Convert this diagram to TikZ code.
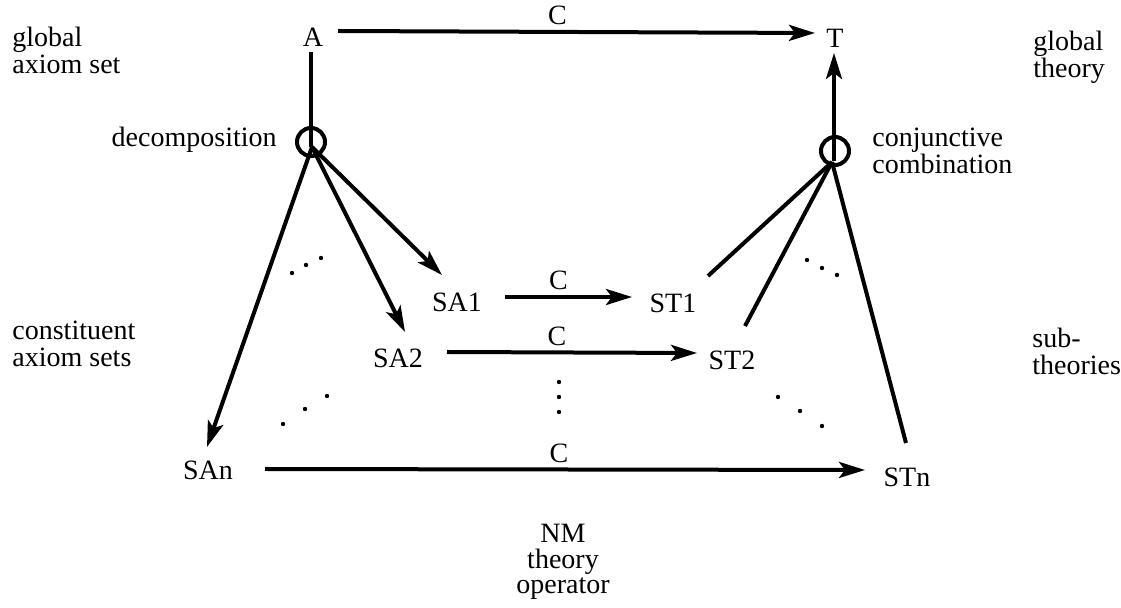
\documentclass[tikz,border=0pt]{standalone}
\usepackage{fontspec}
\setmainfont{Liberation Serif}
\usetikzlibrary{arrows.meta,calc}
\begin{document}
\begin{tikzpicture}[x=0.5pt,y=-0.5pt,
  lbl/.style={font=\fontsize{14}{13.5}\selectfont, inner sep=0pt},
  ln/.style={line width=2pt},
  arr/.style={line width=2pt,-{Stealth[length=13pt,width=8pt,inset=3pt]}},
  hub/.style={circle, draw, line width=2pt, minimum size=14pt, inner sep=0pt},
  clbl/.style={lbl, above=2.5pt}]
\useasboundingbox (0,0) rectangle (1121,608);
% main nodes
\node[lbl] (A) at (313,37) {A};
\node[lbl] (T) at (835,38) {T};
\node[hub] (dec) at (311,142) {};
\node[hub] (con) at (835,151) {};
\node[lbl] (SA1) at (457,302) {SA1};
\node[lbl] (SA2) at (398,358) {SA2};
\node[lbl] (SAn) at (208,470) {SAn};
\node[lbl] (ST1) at (673,303) {ST1};
\node[lbl] (ST2) at (732,360) {ST2};
\node[lbl] (STn) at (907,477) {STn};
% side labels (base anchor = baseline of last line)
\node[lbl, anchor=base west, align=left] (gas) at (12,74) {global\\axiom set};
\node[lbl, anchor=base east] (decl) at (277,147) {decomposition};
\node[lbl, anchor=base west, align=left] (cas) at (12,367) {constituent\\axiom sets};
\node[lbl, anchor=base west, align=left] (gt) at (1033,78) {global\\theory};
\node[lbl, anchor=base west, align=left] (cc) at (872,174) {conjunctive\\combination};
\node[lbl, anchor=base west, align=left] (subt) at (1032,375) {sub-\\theories};
\node[lbl, font=\fontsize{14}{12.75}\selectfont, anchor=base, align=center] (nm) at (563,594) {NM\\theory\\operator};
% top connector
\draw[arr] ($(A)+(25,-6)$) -- node[clbl, pos=0.46] (c0) {C} ($(T)+(-20,-5)$);
% decomposition
\draw[ln] ($(A)+(-2,15)$) -- ($(dec)+(0,5)$);
\draw[arr] ($(dec)+(1,5)$) -- ($(SA1)+(-15,-27)$);
\draw[arr] ($(dec)+(1,5)$) -- ($(SA2)+(7,-26)$);
\draw[arr] ($(dec)+(1,5)$) -- ($(SAn)+(-1,-23)$);
% C operators
\draw[arr] ($(SA1)+(48,-5)$) -- node[clbl, pos=0.42] (c1) {C} ($(ST1)+(-41,-6)$);
\draw[arr] ($(SA2)+(49,-6)$) -- node[clbl, pos=0.44] (c2) {C} ($(ST2)+(-35,-7)$);
\draw[arr] ($(SAn)+(57,-1)$) -- node[clbl, pos=0.49] (c3) {C} ($(STn)+(-42,-7)$);
% conjunctive combination
\draw[ln] ($(ST1)+(35,-27)$) -- ($(con)+(-3,11)$);
\draw[ln] ($(ST2)+(13,-34)$) -- ($(con)+(-3,11)$);
\draw[ln] ($(STn)+(-1,-34)$) -- ($(con)+(-3,11)$);
\draw[arr] ($(con)+(-1,10)$) -- ($(T)+(-1,15)$);
% dots
\foreach \p in {(292,273),(306,265),(321,258),
                (283,424),(305,409),(327,396),
                (559,382),(559,397),(559,412),
                (807,260),(822,268),(837,275),
                (778,397),(800,411),(822,426)}
  \fill \p circle (1.1pt);
\end{tikzpicture}
\end{document}
